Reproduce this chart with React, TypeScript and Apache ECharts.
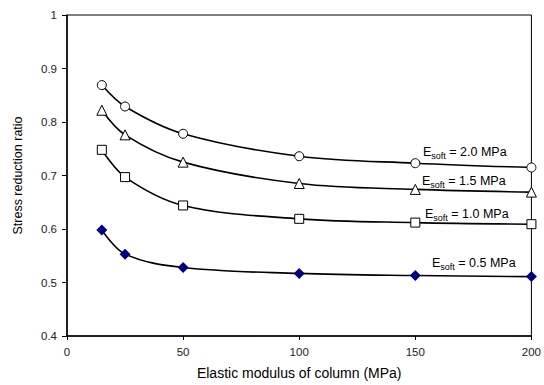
import React, { useEffect, useRef } from "react";
import * as echarts from "echarts";

const xValues = [15, 25, 50, 100, 150, 200];
const soft20 = [0.869, 0.829, 0.778, 0.736, 0.723, 0.715];
const soft15 = [0.822, 0.776, 0.725, 0.685, 0.674, 0.669];
const soft10 = [0.748, 0.697, 0.644, 0.619, 0.612, 0.609];
const soft05 = [0.598, 0.553, 0.528, 0.517, 0.513, 0.511];
const labels = ["2.0", "1.5", "1.0", "0.5"];

const FONT = "Liberation Sans, Arial, sans-serif";

export default function App() {
  const ref = useRef<HTMLDivElement>(null);
  useEffect(() => {
    if (!ref.current) return;
    const chart = echarts.init(ref.current, undefined, { renderer: "svg" });
    const mk = (vals: number[]) => xValues.map((x, i) => [x, vals[i]]);
    const lineStyle = { color: "#000", width: 1.6 };
    const series: any[] = [
      { data: mk(soft20), symbol: "circle", symbolSize: 9, itemStyle: { color: "#fff", borderColor: "#000", borderWidth: 1 } },
      { data: mk(soft15), symbol: "triangle", symbolSize: 10, itemStyle: { color: "#fff", borderColor: "#000", borderWidth: 1 } },
      { data: mk(soft10), symbol: "rect", symbolSize: 9, itemStyle: { color: "#fff", borderColor: "#000", borderWidth: 1 } },
      { data: mk(soft05), symbol: "diamond", symbolSize: 11, itemStyle: { color: "#000080", borderColor: "#000080", borderWidth: 0 } },
    ].map((s) => ({ type: "line", smooth: 0.35, lineStyle, z: 3, ...s }));

    const labelPos = [
      [423, 152],
      [422, 181],
      [425, 214],
      [432, 263],
    ];
    const graphics = labels.map((l, i) => ({
      type: "text",
      x: labelPos[i][0],
      y: labelPos[i][1],
      z: 10,
      style: {
        text: `{e|E}{s|soft}{e| = ${l} MPa}`,
        verticalAlign: "middle",
        rich: {
          e: { fontSize: 12.5, fontFamily: FONT, fill: "#000", verticalAlign: "bottom" },
          s: { fontSize: 9, fontFamily: FONT, fill: "#000", verticalAlign: "bottom", padding: [0, 0, -2, 0] },
        },
      },
    }));

    chart.setOption({
      animation: false,
      grid: { left: 67, right: 10, top: 15, bottom: 49, show: true, borderColor: "#000", borderWidth: 1 },
      xAxis: {
        type: "value",
        min: 0,
        max: 200,
        interval: 50,
        name: "Elastic modulus of column (MPa)",
        nameLocation: "middle",
        nameGap: 30,
        nameTextStyle: { fontSize: 14, fontFamily: FONT, color: "#000" },
        axisLine: { lineStyle: { color: "#000", width: 1.5 } },
        axisTick: { show: true, length: 4, lineStyle: { color: "#000" } },
        axisLabel: { fontSize: 11.5, fontFamily: FONT, color: "#222", margin: 10 },
        splitLine: { show: false },
      },
      yAxis: {
        type: "value",
        min: 0.4,
        max: 1,
        interval: 0.1,
        name: "Stress reduction ratio",
        nameLocation: "middle",
        nameGap: 43,
        nameTextStyle: { fontSize: 12.5, fontFamily: FONT, color: "#000" },
        axisLine: { show: true, lineStyle: { color: "#000", width: 1.5 } },
        axisTick: { show: true, length: 5, lineStyle: { color: "#000" } },
        axisLabel: {
          fontSize: 11.5,
          fontFamily: FONT,
          color: "#222",
          margin: 10,
          formatter: (v: number) => (Math.abs(v - 1) < 1e-9 ? "1" : v.toFixed(1)),
        },
        splitLine: { show: false },
      },
      series,
      graphic: graphics,
    });
    return () => chart.dispose();
  }, []);
  return <div ref={ref} style={{ position: "absolute", left: 0, top: 0, width: 544, height: 385 }} />;
}
